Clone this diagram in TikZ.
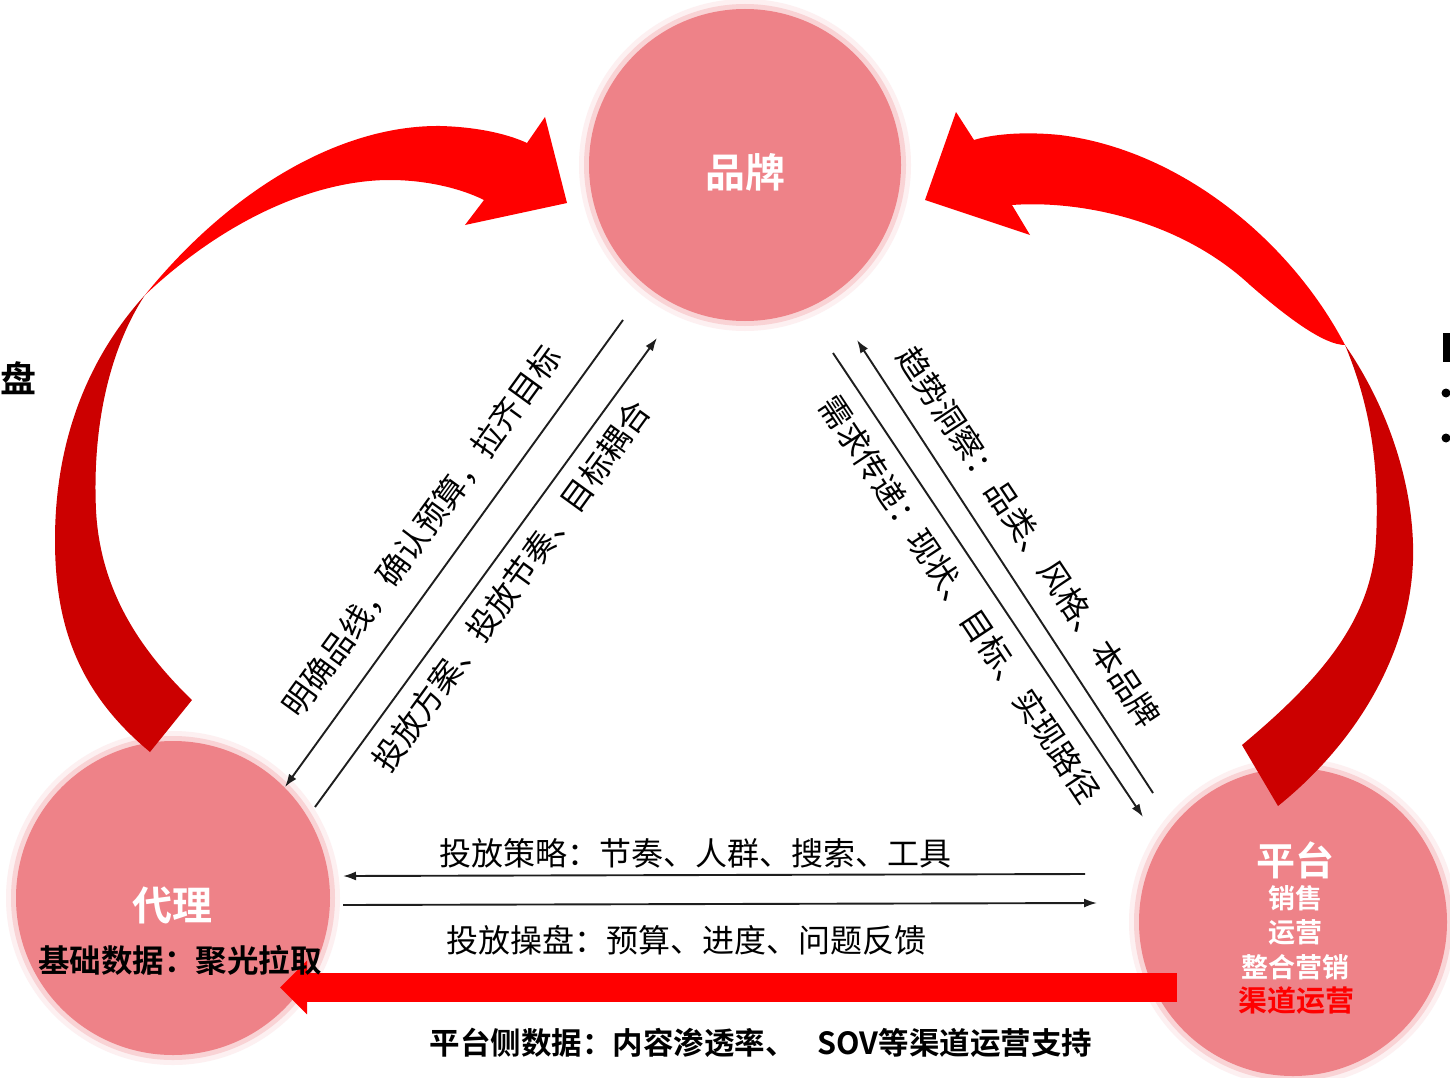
\documentclass[tikz,border=0pt]{standalone}
\usepackage{fontspec}
\setmainfont{Noto Sans CJK SC}[BoldFont={Noto Sans CJK SC Bold}]
\usetikzlibrary{arrows.meta}
\definecolor{pinkc}{HTML}{EE8288}
\definecolor{bred}{HTML}{FF0000}
\definecolor{dred}{HTML}{CC0000}
\definecolor{linec}{HTML}{1E1E1E}
\tikzset{
  hub/.style={circle, fill=pinkc, inner sep=0pt},
  conn/.style={draw=linec, line width=1.9pt, -{Latex[length=13pt,width=9pt]}},
  lbl/.style={inner sep=0pt, font=\fontsize{32}{35}\selectfont, text=black},
  hubtitle/.style={inner sep=0pt, font=\bfseries\fontsize{40}{44}\selectfont, text=white},
  hubsub/.style={inner sep=0pt, font=\bfseries\fontsize{27}{30}\selectfont, text=white},
  boldlbl/.style={inner sep=0pt, font=\bfseries\fontsize{31}{34}\selectfont, text=black},
  bulletdot/.style={circle, fill=black, inner sep=0pt, minimum size=9pt},
}
\begin{document}
\begin{tikzpicture}[x=1pt,y=-1pt]
\useasboundingbox (0,0) rectangle (1450,1078);
\fill[white] (0,0) rectangle (1450,1078);

% glow around hubs
\fill[pinkc!12] (745,165) circle (166pt);
\fill[pinkc!35] (745,165) circle (161pt);
\fill[pinkc!12] (173,898) circle (167pt);
\fill[pinkc!35] (173,898) circle (162pt);
\fill[pinkc!12] (1293,922) circle (164pt);
\fill[pinkc!35] (1293,922) circle (159pt);

% hubs
\node[hub, minimum size=312pt] (brand) at (745,165) {};
\node[hub, minimum size=314pt] (agent) at (173,898) {};
\node[hub, minimum size=308pt] (platform) at (1293,922) {};

% connector end points
\coordinate (l1a) at (623,320);
\coordinate (l1b) at (285,787);
\coordinate (l2a) at (315,807);
\coordinate (l2b) at (657,338);
\coordinate (r1a) at (1153,793);
\coordinate (r1b) at (857,340);
\coordinate (r2a) at (833,353);
\coordinate (r2b) at (1143,817);
\coordinate (h1a) at (1085,874);
\coordinate (h1b) at (343,876);
\coordinate (h2a) at (343,905);
\coordinate (h2b) at (1097,903);

\draw[conn] (l1a) -- (l1b);
\draw[conn] (l2a) -- (l2b);
\draw[conn] (r1a) -- (r1b);
\draw[conn] (r2a) -- (r2b);
\draw[conn] (h1a) -- (h1b);
\draw[conn] (h2a) -- (h2b);

% connector labels
\node[lbl, rotate=54] (t1) at (422,531) {明确品线，确认预算，拉齐目标};
\node[lbl, rotate=54] (t2) at (511,586) {投放方案、投放节奏、目标耦合};
\node[lbl, rotate=-56.5] (t3) at (1029,537) {趋势洞察：品类、风格、本品牌};
\node[lbl, rotate=-56.5] (t4) at (960,599) {需求传递：现状、目标、实现路径};
\node[lbl] (t5) at (695,853) {投放策略：节奏、人群、搜索、工具};
\node[lbl] (t6) at (686,940) {投放操盘：预算、进度、问题反馈};

% left curved arrow (agent -> brand)
\fill[dred] (150,752) .. controls (75,690) and (55,620) .. (55,540)
  .. controls (55,430) and (95,350) .. (145,295)
  .. controls (112,345) and (92,420) .. (96,510)
  .. controls (100,590) and (140,650) .. (192,700) -- cycle;
\fill[bred] (145,295) .. controls (230,190) and (340,125) .. (440,126)
  .. controls (480,127) and (510,135) .. (527,143)
  -- (545,117) -- (567,203) -- (465,225) -- (484,200)
  .. controls (460,188) and (425,180) .. (390,180)
  .. controls (320,180) and (230,215) .. (145,295) -- cycle;

% right curved arrow (platform -> brand)
\fill[dred] (1345,345) .. controls (1390,410) and (1415,490) .. (1413,560)
  .. controls (1410,650) and (1360,740) .. (1278,806)
  -- (1242,745)
  .. controls (1320,680) and (1372,620) .. (1376,540)
  .. controls (1380,460) and (1368,400) .. (1345,345) -- cycle;
\fill[bred] (1345,345) .. controls (1290,240) and (1180,150) .. (1060,135)
  .. controls (1020,131) and (990,135) .. (974,140)
  -- (956,112) -- (925,200) -- (1030,235) -- (1012,205)
  .. controls (1080,200) and (1180,220) .. (1250,285)
  .. controls (1290,320) and (1325,345) .. (1345,345) -- cycle;

% red bottom arrow (platform -> agent)
\coordinate (ra) at (1177,987.5);
\coordinate (rb) at (280,987.5);
\draw[bred, line width=29pt, -{Triangle[length=27pt 0 0,width=52pt 0 0]}] (ra) -- (rb);

% hub texts
\node[hubtitle] (brandlbl) at (745,172) {品牌};
\node[hubtitle] (agentlbl) at (172,905) {代理};
\node[boldlbl, font=\bfseries\fontsize{31.5}{34}\selectfont] (agentsub) at (180,960) {基础数据：聚光拉取};
\node[hubtitle, font=\bfseries\fontsize{39}{42}\selectfont] (platlbl) at (1295,860) {平台};
\node[hubsub] (p1) at (1295,898) {销售};
\node[hubsub] (p2) at (1295,932) {运营};
\node[hubsub] (p3) at (1295,967) {整合营销};
\node[hubsub, text=bred, font=\bfseries\fontsize{29}{32}\selectfont] (p4) at (1296,1001) {渠道运营};

% bottom caption
\node[boldlbl, font=\bfseries\fontsize{30.5}{33}\selectfont] (cap) at (761,1043) {平台侧数据：内容渗透率、\hspace{22pt}SOV等渠道运营支持};

% fragments at the edges
\node[boldlbl, font=\bfseries\fontsize{36}{38}\selectfont] (frag1) at (18,378) {盘};
\fill[black] (1443,333) rectangle (1451,362);
\node[bulletdot] (b1) at (1446,393) {};
\node[bulletdot] (b2) at (1446,438) {};
\end{tikzpicture}
\end{document}
